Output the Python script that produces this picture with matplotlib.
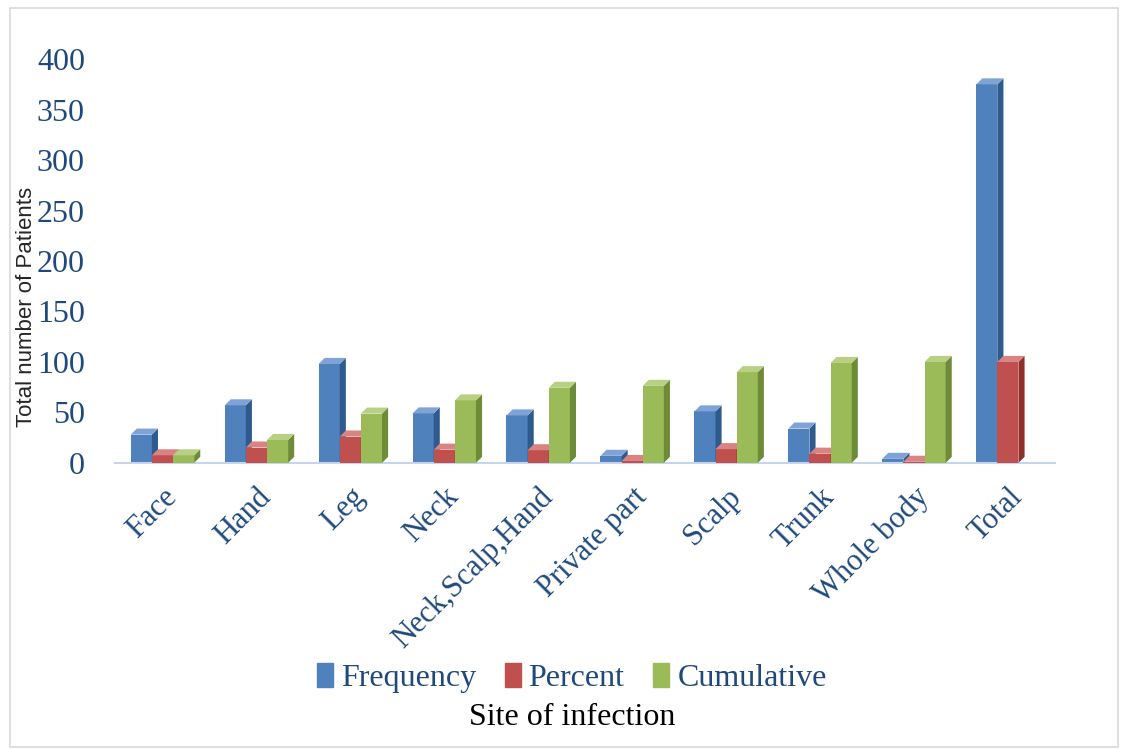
import matplotlib.pyplot as plt
from matplotlib.patches import Patch, Rectangle
import numpy as np

# data
sites = ["Face", "Hand", "Leg", "Neck", "Neck,Scalp,Hand", "Private part",
         "Scalp", "Trunk", "Whole body", "Total"]
frequency = [28, 57, 98, 49, 47, 7, 51, 34, 4, 375]
percent = [7.5, 15.2, 26.1, 13.1, 12.5, 1.9, 13.6, 9.1, 1.1, 100]
cumulative = [7.5, 22.7, 48.8, 61.9, 74.4, 76.3, 89.9, 99.0, 100, 0]

series = ["Frequency", "Percent", "Cumulative"]
front = ["#4F81BD", "#C0504D", "#9BBB59"]
side = ["#2E5A8E", "#8E2F2C", "#6E8C38"]
top = ["#7FA3D6", "#D98482", "#B7D084"]

plt.rcParams['font.family'] = ['Liberation Serif', 'DejaVu Serif']
label_col = "#1F497D"

fig = plt.figure(figsize=(11.21, 7.49), dpi=100)
ax = fig.add_axes([0.103, 0.382, 0.838, 0.539])

w = 0.225
dx, dy = 0.065, 6
x0 = np.arange(len(sites))
for i, vals in enumerate([frequency, percent, cumulative]):
    xs = x0 + (i - 1) * w
    for x, v in zip(xs, vals):
        if v <= 0:
            continue
        ax.bar(x, v, width=w, color=front[i], zorder=2 + i)
        ax.fill([x + w / 2, x + w / 2 + dx, x + w / 2 + dx, x + w / 2],
                [0, dy, v + dy, v], color=side[i], zorder=2 + i, lw=0)
        ax.fill([x - w / 2, x + w / 2, x + w / 2 + dx, x - w / 2 + dx],
                [v, v, v + dy, v + dy], color=top[i], zorder=2 + i, lw=0)

ax.set_xlim(-0.5, len(sites) - 0.5)
ax.set_ylim(0, 400)
ax.set_yticks(range(0, 401, 50))
ax.tick_params(axis='y', length=0, pad=22, labelsize=23, labelcolor=label_col)
ax.set_xticks(x0)
ax.set_xticklabels(sites, rotation=45, ha='right', rotation_mode='anchor',
                   fontsize=22, color=label_col)
ax.tick_params(axis='x', length=0, pad=14)
for s in ["top", "right", "left"]:
    ax.spines[s].set_visible(False)
ax.spines["bottom"].set_color("#C6D4EC")
ax.spines["bottom"].set_linewidth(1.5)

fig.text(0.024, 0.59, "Total number of Patients", rotation=90, ha='center',
         va='center', fontsize=16, family='Liberation Sans', color="#262626")

handles = [Patch(color=c) for c in front]
fig.legend(handles, series, loc='center', bbox_to_anchor=(0.51, 0.095),
           ncol=3, frameon=False, fontsize=23, handlelength=0.5,
           handleheight=0.8, handletextpad=0.25, columnspacing=0.9,
           labelcolor=label_col)
fig.text(0.51, 0.042, "Site of infection", ha='center', va='center', fontsize=23)

fig.patches.append(Rectangle((0.009, 0.003), 0.988, 0.986, transform=fig.transFigure,
                             fill=False, edgecolor="#D9D9D9", lw=1.2))

fig.savefig("out.png", dpi=100)
